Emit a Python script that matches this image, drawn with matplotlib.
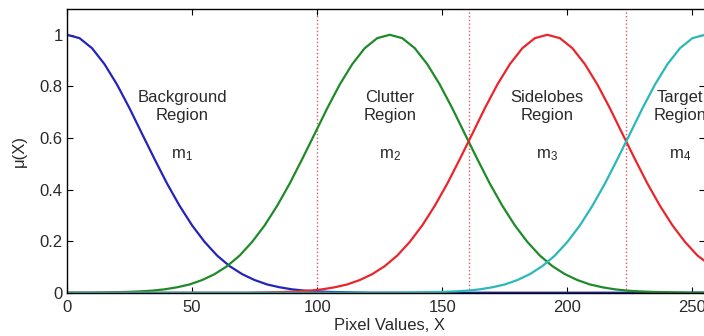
import matplotlib
matplotlib.use("Agg")
import matplotlib.pyplot as plt

plt.rcParams['font.family'] = ['Liberation Sans', 'DejaVu Sans']

# membership curves, values
bg_x = [0, 5, 10, 15, 20, 25, 30, 35, 40, 45, 50, 55, 60, 65, 70, 75, 80, 85,
        90, 95, 100, 105, 110, 115, 120, 255]
bg_y = [1.000, 0.987, 0.948, 0.886, 0.807, 0.715, 0.616, 0.518, 0.423, 0.337,
        0.261, 0.197, 0.144, 0.103, 0.072, 0.049, 0.032, 0.021, 0.013, 0.008,
        0.005, 0.003, 0.002, 0.001, 0.000, 0.000]

cl_x = [0, 9, 14, 19, 24, 29, 34, 39, 44, 49, 54, 59, 64, 69, 74, 79, 84, 89,
        94, 99, 104, 109, 114, 119, 124, 129, 134, 139, 144, 149, 154, 159,
        164, 169, 174, 179, 184, 189, 194, 199, 204, 209, 214, 219, 224, 229,
        234, 239, 244, 249, 255]
cl_y = [0.000, 0.000, 0.001, 0.002, 0.003, 0.005, 0.008, 0.013, 0.021, 0.032,
        0.049, 0.072, 0.103, 0.144, 0.197, 0.261, 0.337, 0.423, 0.518, 0.616,
        0.715, 0.807, 0.886, 0.948, 0.987, 1.000, 0.987, 0.948, 0.886, 0.807,
        0.715, 0.616, 0.518, 0.423, 0.337, 0.261, 0.197, 0.144, 0.103, 0.072,
        0.049, 0.032, 0.021, 0.013, 0.008, 0.005, 0.003, 0.002, 0.001, 0.000,
        0.000]

sl_x = [0, 72, 77, 82, 87, 92, 97, 102, 107, 112, 117, 122, 127, 132, 137,
        142, 147, 152, 157, 162, 167, 172, 177, 182, 187, 192, 197, 202, 207,
        212, 217, 222, 227, 232, 237, 242, 247, 252, 255]
sl_y = [0.000, 0.000, 0.001, 0.002, 0.003, 0.005, 0.008, 0.013, 0.021, 0.032,
        0.049, 0.072, 0.103, 0.144, 0.197, 0.261, 0.337, 0.423, 0.518, 0.616,
        0.715, 0.807, 0.886, 0.948, 0.987, 1.000, 0.987, 0.948, 0.886, 0.807,
        0.715, 0.616, 0.518, 0.423, 0.337, 0.261, 0.197, 0.144, 0.122]

tg_x = [0, 135, 140, 145, 150, 155, 160, 165, 170, 175, 180, 185, 190, 195,
        200, 205, 210, 215, 220, 225, 230, 235, 240, 245, 250, 255]
tg_y = [0.000, 0.000, 0.001, 0.002, 0.003, 0.005, 0.008, 0.013, 0.021, 0.032,
        0.049, 0.072, 0.103, 0.144, 0.197, 0.261, 0.337, 0.423, 0.518, 0.616,
        0.715, 0.807, 0.886, 0.948, 0.987, 1.000]

# region borders (dotted red lines)
bounds = [100, 160.5, 223.5]

region_names = ["Background\nRegion", "Clutter\nRegion",
                "Sidelobes\nRegion", "Target\nRegion"]
region_marks = ["$\\mathregular{m_1}$", "$\\mathregular{m_2}$",
                "$\\mathregular{m_3}$", "$\\mathregular{m_4}$"]
region_x = [46, 129, 192, 245]

x_ticks = [0, 50, 100, 150, 200, 250]
y_ticks = [0, 0.2, 0.4, 0.6, 0.8, 1.0]
y_ticklabels = ["0", "0.2", "0.4", "0.6", "0.8", "1"]

COLORS = ["#2424b8", "#1f8a2a", "#e8262c", "#2cb8b8"]
TXT = "#2a2a2a"
FS = 12

fig = plt.figure(figsize=(7.04, 3.36), dpi=100)
ax = fig.add_axes([67 / 704, 43.3 / 336, 638 / 704, 283.7 / 336])

for b in bounds:
    ax.axvline(b, color="#e05a5a", linestyle=":", linewidth=1.0, zorder=1)

curves = [(bg_x, bg_y), (cl_x, cl_y), (sl_x, sl_y), (tg_x, tg_y)]
for (xs, ys), c in zip(curves, COLORS):
    ax.plot(xs, ys, color=c, linewidth=1.6, zorder=2)

for name, mark, x in zip(region_names, region_marks, region_x):
    ax.text(x, 0.722, name, ha="center", va="center", fontsize=FS,
            color=TXT, linespacing=1.25)
    ax.text(x, 0.535, mark, ha="center", va="center", fontsize=FS, color=TXT)

ax.set_xlim(0, 255)
ax.set_ylim(0, 1.1)
ax.set_xticks(x_ticks)
ax.set_yticks(y_ticks)
ax.set_yticklabels(y_ticklabels)
ax.tick_params(direction="in", length=4, width=0.8, top=True, right=True,
               labelsize=FS, colors="black", labelcolor=TXT)
ax.tick_params(axis="x", pad=5)
ax.tick_params(axis="y", pad=3)
for s in ax.spines.values():
    s.set_linewidth(1.0)

ax.set_xlabel("Pixel Values, X", fontsize=FS, color=TXT)
ax.set_ylabel("\u03bc(X)", fontsize=FS, color=TXT)
ax.xaxis.set_label_coords(0.505, -0.088)
ax.yaxis.set_label_coords(-0.063, 0.5)

plt.savefig("out.png", dpi=100)
plt.close()
